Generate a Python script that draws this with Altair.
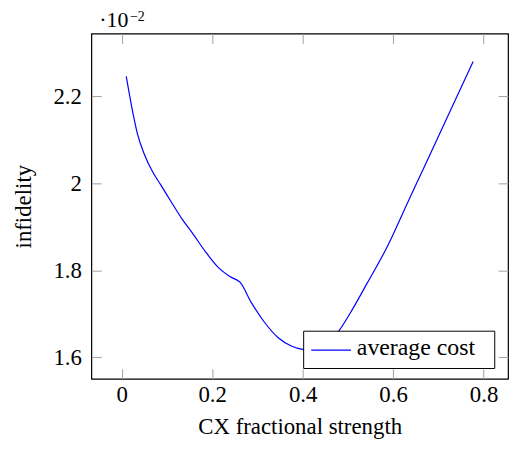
import altair as alt
import pandas as pd

# CX fractional strength (x) and infidelity in units of 1e-2 (y)
strength = [0.010, 0.024, 0.035, 0.050, 0.068, 0.086, 0.112, 0.134, 0.156, 0.185,
            0.214, 0.240, 0.262, 0.287, 0.316, 0.346, 0.375, 0.400, 0.420, 0.440,
            0.460, 0.481, 0.506, 0.543, 0.587, 0.631, 0.674, 0.718, 0.777]
infidelity = [2.246, 2.166, 2.113, 2.067, 2.027, 1.997, 1.953, 1.917, 1.886, 1.843,
              1.806, 1.785, 1.772, 1.725, 1.680, 1.645, 1.626, 1.618, 1.616, 1.622,
              1.637, 1.662, 1.703, 1.771, 1.854, 1.953, 2.049, 2.148, 2.280]
series = ["average cost"]
x_ticks = [0, 0.2, 0.4, 0.6, 0.8]
y_ticks = [1.6, 1.8, 2.0, 2.2]
scale_base = ["·10"]
scale_exp = ["−2"]

df = pd.DataFrame({"strength": strength, "infidelity": infidelity, "series": series[0]})

FONT = "Liberation Serif"
FS = 23
BLUE = "#0000ff"
xs = alt.Scale(domain=[-0.0671, 0.8541], nice=False, zero=False)
ys = alt.Scale(domain=[1.5505, 2.3443], nice=False, zero=False)

tick_common = dict(domain=False, grid=False, ticks=True, tickSize=10, offset=-10,
                   tickColor="#a0a0a0", tickWidth=1,
                   labelFont=FONT, labelFontSize=FS, labelColor="black",
                   titleFont=FONT, titleFontSize=FS, titleColor="black",
                   titleFontWeight="normal")

line = alt.Chart(df).mark_line(strokeWidth=1.2, interpolate="monotone", color=BLUE).encode(
    x=alt.X("strength:Q", scale=xs,
            axis=alt.Axis(orient="bottom", values=x_ticks, format="~g",
                          title="CX fractional strength", labelPadding=5,
                          titlePadding=9, **tick_common)),
    y=alt.Y("infidelity:Q", scale=ys,
            axis=alt.Axis(orient="left", values=y_ticks, format="~g",
                          title="infidelity", labelPadding=10, titlePadding=18,
                          **tick_common)),
)

mirror = alt.Chart(df).mark_point(opacity=0).encode(
    x=alt.X("strength:Q", scale=xs,
            axis=alt.Axis(orient="top", values=x_ticks, labels=False, title=None,
                          **tick_common)),
    y=alt.Y("infidelity:Q", scale=ys,
            axis=alt.Axis(orient="right", values=y_ticks, labels=False, title=None,
                          **tick_common)),
)

# legend box (pgfplots style, south east)
leg_df = pd.DataFrame({"series": series})
leg_box = alt.Chart(leg_df).mark_rect(fill="white", stroke="black", strokeWidth=1).encode(
    x=alt.value(214), x2=alt.value(406.6), y=alt.value(300), y2=alt.value(337.6))
leg_line = alt.Chart(leg_df).mark_rule(color=BLUE, strokeWidth=1.2).encode(
    x=alt.value(221.6), x2=alt.value(261.6), y=alt.value(319))
leg_text = alt.Chart(leg_df).mark_text(
    align="left", baseline="alphabetic", font=FONT, fontSize=24, color="black"
).encode(x=alt.value(267.6), y=alt.value(324.5), text="series:N")

base_txt = alt.Chart(pd.DataFrame({"t": scale_base})).mark_text(
    align="left", baseline="alphabetic", font=FONT, fontSize=22, color="black"
).encode(x=alt.value(8), y=alt.value(-7), text="t:N")

exp_txt = alt.Chart(pd.DataFrame({"t": scale_exp})).mark_text(
    align="left", baseline="alphabetic", font=FONT, fontSize=14, color="black"
).encode(x=alt.value(39), y=alt.value(-13), text="t:N")

chart = alt.layer(line, mirror, leg_box, leg_line, leg_text, base_txt, exp_txt).resolve_axis(
    x="independent", y="independent"
).properties(
    width=420, height=348,
    autosize=alt.AutoSizeParams(type="none"),
    padding={"left": 84, "top": 24, "right": 5, "bottom": 70},
).configure_view(stroke="black", strokeWidth=1.2)

chart.save("out.html", embed_options={"renderer": "svg", "actions": False})
